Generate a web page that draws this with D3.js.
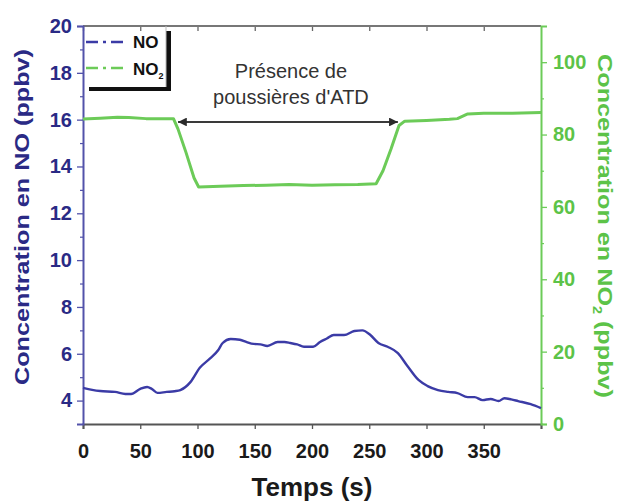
<!DOCTYPE html>
<html><head><meta charset="utf-8">
<script src="https://cdn.jsdelivr.net/npm/d3@7"></script>
<style>
html,body{margin:0;padding:0;background:#fff;}
svg{display:block;font-family:"Liberation Sans",Arial,sans-serif;}
</style></head>
<body>
<svg id="chart" width="619" height="504"></svg>
<script>
// ---- data ----
const noTime = [0,8,15,28,37,42,50,56,60,65,73,80,85,94,102,111,118,122,129,137,143,149,155,161,170,176,181,187,193,201,207,213,219,228,237,244,251,258,266,275,283,293,301,310,319,327,336,342,349,356,363,368,374,380,391,400];
const noValues = [4.54,4.46,4.41,4.37,4.28,4.28,4.5,4.58,4.5,4.33,4.37,4.4,4.45,4.8,5.4,5.8,6.15,6.46,6.63,6.6,6.5,6.42,6.4,6.33,6.5,6.5,6.46,6.4,6.3,6.3,6.5,6.65,6.8,6.8,6.97,7.0,6.8,6.46,6.3,6.03,5.5,4.88,4.62,4.45,4.37,4.32,4.15,4.15,4.02,4.07,3.98,4.1,4.05,3.98,3.85,3.68];
const no2Time = [0,15,30,40,55,70,79,83,90,97,101,120,140,160,180,200,220,240,256,262,269,276,281,300,320,327,336,350,375,400];
const no2Values = [84.3,84.5,84.8,84.7,84.4,84.4,84.4,81.5,75,68,65.5,65.7,65.9,66.0,66.2,66.0,66.1,66.2,66.4,70,76,82.5,83.7,83.9,84.2,84.4,85.7,85.9,85.9,86.1];
const xTicks = [0,50,100,150,200,250,300,350];
const leftTicks = [4,6,8,10,12,14,16,18,20];
const leftMinor = [5,7,9,11,13,15,17,19];
const rightTicks = [0,20,40,60,80,100];
const rightMinor = [10,30,50,70,90];
const arrowSpan = [83,275];
const arrowLevel = 15.9;
const annotation = ["Présence de","poussières d'ATD"];

// ---- layout ----
const W=619,H=504, m={l:83,r:78,t:26,b:80};
const iw=W-m.l-m.r, ih=H-m.t-m.b;
const blue="#3b3ba6", blueText="#2a2a85", green="#6ccb58", greenText="#5cc348";
const svg=d3.select("#chart");
const g=svg.append("g").attr("transform",`translate(${m.l},${m.t})`);

const x=d3.scaleLinear().domain([0,400]).range([0,iw]);
const yL=d3.scaleLinear().domain([3,20]).range([ih,0]);
const yR=d3.scaleLinear().domain([0,110]).range([ih,0]);

// top axis (ticks inside)
const topAx=g.append("g").call(d3.axisBottom(x).tickValues(xTicks).tickSize(5).tickFormat(""));
topAx.select(".domain").remove();
topAx.selectAll("line").attr("stroke","#666").attr("stroke-width",1.3);
g.append("line").attr("x1",0).attr("x2",iw).attr("y1",0).attr("y2",0).attr("stroke","#777").attr("stroke-width",2);

// bottom axis
const bot=g.append("g").attr("transform",`translate(0,${ih})`)
  .call(d3.axisBottom(x).tickValues(xTicks.concat([400])).tickSize(5).tickPadding(15).tickFormat(d=>d===400?"":d));
bot.select(".domain").attr("stroke","#555").attr("stroke-width",2);
bot.selectAll("line").attr("stroke","#555").attr("stroke-width",1.3);
bot.selectAll("text").attr("font-size",20).attr("font-weight","bold").attr("fill","#1a1a1a").attr("font-family","Liberation Sans, Arial, sans-serif");

// left axis
const leftAx=g.append("g").call(d3.axisLeft(yL).tickValues(leftTicks).tickSize(6).tickPadding(5));
leftAx.select(".domain").attr("stroke","#5252aa").attr("stroke-width",2);
leftAx.selectAll("line").attr("stroke","#5252aa").attr("stroke-width",1.3);
leftAx.selectAll("text").attr("font-size",20).attr("font-weight","bold").attr("fill",blueText).attr("font-family","Liberation Sans, Arial, sans-serif");
const leftMin=g.append("g").call(d3.axisLeft(yL).tickValues(leftMinor).tickSize(3).tickFormat(""));
leftMin.select(".domain").remove();
leftMin.selectAll("line").attr("stroke","#5252aa").attr("stroke-width",1.2);

// right axis
const rightAx=g.append("g").attr("transform",`translate(${iw},0)`).call(d3.axisRight(yR).tickValues(rightTicks).tickSize(6).tickPadding(6));
rightAx.select(".domain").attr("stroke",green).attr("stroke-width",2);
rightAx.selectAll("line").attr("stroke",green).attr("stroke-width",1.3);
rightAx.selectAll("text").attr("font-size",20).attr("font-weight","bold").attr("fill",greenText).attr("font-family","Liberation Sans, Arial, sans-serif");
const rightMin=g.append("g").attr("transform",`translate(${iw},0)`).call(d3.axisRight(yR).tickValues(rightMinor).tickSize(3).tickFormat(""));
rightMin.select(".domain").remove();
rightMin.selectAll("line").attr("stroke",green).attr("stroke-width",1.2);

// lines
const noData=noTime.map((t,i)=>({t,v:noValues[i]}));
const no2Data=no2Time.map((t,i)=>({t,v:no2Values[i]}));
g.append("path").datum(no2Data).attr("fill","none").attr("stroke",green).attr("stroke-width",3).attr("stroke-linejoin","round")
  .attr("d",d3.line().x(d=>x(d.t)).y(d=>yR(d.v)));
g.append("path").datum(noData).attr("fill","none").attr("stroke",blue).attr("stroke-width",2.4).attr("stroke-linejoin","round")
  .attr("d",d3.line().x(d=>x(d.t)).y(d=>yL(d.v)).curve(d3.curveMonotoneX));

// arrow
const defs=svg.append("defs");
["s","e"].forEach(k=>{
  defs.append("marker").attr("id","ar"+k).attr("viewBox","0 0 10 10").attr("refX",k==="e"?10:0).attr("refY",5)
    .attr("markerWidth",4).attr("markerHeight",4).attr("markerUnits","strokeWidth").attr("orient","auto")
    .append("path").attr("d",k==="e"?"M0,0L10,5L0,10z":"M10,0L0,5L10,10z").attr("fill","#2a2a2a");
});
g.append("line").attr("x1",x(arrowSpan[0])).attr("x2",x(arrowSpan[1])).attr("y1",yL(arrowLevel)).attr("y2",yL(arrowLevel))
  .attr("stroke","#3a3a3a").attr("stroke-width",2.2).attr("marker-start","url(#ars)").attr("marker-end","url(#are)");
const cx=x((arrowSpan[0]+arrowSpan[1])/2)+3;
g.append("text").attr("x",cx).attr("y",78-m.t).attr("text-anchor","middle").attr("font-size",20).attr("fill","#333").text(annotation[0]);
g.append("text").attr("x",cx).attr("y",104-m.t).attr("text-anchor","middle").attr("font-size",20).attr("fill","#333").text(annotation[1]);

// legend
const lg=svg.append("g");
lg.append("rect").attr("x",166).attr("y",31).attr("width",5).attr("height",60).attr("fill","#111");
lg.append("rect").attr("x",89).attr("y",87).attr("width",82).attr("height",4).attr("fill","#111");
lg.append("line").attr("x1",166).attr("x2",166).attr("y1",26).attr("y2",87).attr("stroke","#bbb").attr("stroke-width",1);
[[blue,"NO",42,48],[green,"NO",68,75]].forEach(([c,t,ly,ty],i)=>{
  lg.append("line").attr("x1",86).attr("x2",128).attr("y1",ly).attr("y2",ly).attr("stroke",c).attr("stroke-width",2.4)
    .attr("stroke-dasharray","12,5,3,5");
  const tx=lg.append("text").attr("x",133).attr("y",ty).attr("font-size",17).attr("font-weight","bold").attr("fill","#111");
  tx.append("tspan").text(t);
  if(i===1) tx.append("tspan").attr("font-size",9).attr("dy",4).text("2");
});

// axis titles
svg.append("text").attr("transform","translate(29,217) rotate(-90)").attr("text-anchor","middle")
  .attr("font-size",21).attr("font-weight","bold").attr("fill",blueText).attr("textLength",336).attr("lengthAdjust","spacingAndGlyphs")
  .text("Concentration en NO (ppbv)");
const rt=svg.append("text").attr("transform","translate(598,226) rotate(90) scale(1.2,1)").attr("text-anchor","middle")
  .attr("font-size",21).attr("font-weight","bold").attr("fill",greenText);
rt.append("tspan").text("Concentration en NO");
rt.append("tspan").attr("font-size",12).attr("dy",5).text("2");
rt.append("tspan").attr("dy",-5).text(" (ppbv)");
svg.append("text").attr("x",312).attr("y",496).attr("text-anchor","middle").attr("font-size",26).attr("font-weight","bold").attr("fill","#1a1a1a").text("Temps (s)");
</script>
</body></html>
